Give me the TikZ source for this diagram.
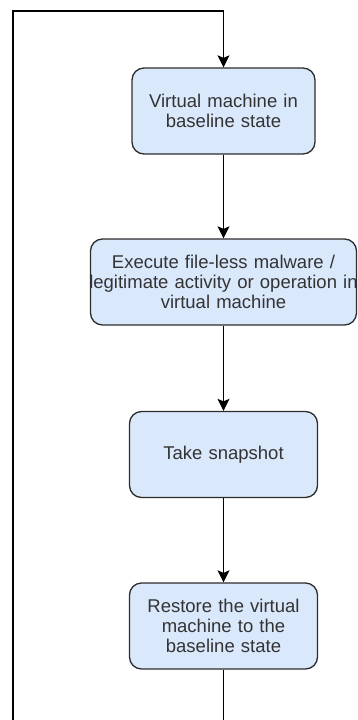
\documentclass[tikz,border=0pt]{standalone}
\usepackage{fontspec}
\setmainfont{Liberation Sans}
\usetikzlibrary{arrows.meta}

\definecolor{boxblue}{RGB}{218,232,252}
\definecolor{boxline}{RGB}{45,45,45}
\definecolor{boxtext}{RGB}{51,51,51}

\tikzset{
  stepbox/.style={draw=boxline, fill=boxblue, rounded corners=12pt, line width=1.3pt,
    align=center, text=boxtext, inner sep=0pt, minimum height=86pt,
    font=\fontsize{18.5}{20}\selectfont},
  flow/.style={-{Stealth[length=12pt,width=12pt,inset=2.5pt]}, line width=1.4pt}
}

\begin{document}
\begin{tikzpicture}[x=1pt,y=1pt]
      \useasboundingbox (0,0) rectangle (357,-720);

      \node[stepbox, text width=183pt] (vm) at (223.5,-111) {Virtual machine in\\baseline state};
      \node[stepbox, text width=266pt] (run) at (223.5,-282) {Execute file-less malware /\\\makebox[\linewidth]{legitimate activity or operation in}\\virtual machine};
      \node[stepbox, text width=188pt] (snap) at (223.5,-454.5) {Take snapshot};
      \node[stepbox, text width=188pt] (restore) at (223.5,-626) {Restore the virtual\\machine to the\\baseline state};

      \coordinate (top) at (223.5,-11);
      \coordinate (endL) at (13,-720);
      \coordinate (endR) at (223.5,-720);

      \draw[flow] (endL) |- (top) -- (vm);
      \draw[flow] (vm) -- (run);
      \draw[flow] (run) -- (snap);
      \draw[flow] (snap) -- (restore);
      \draw[line width=1.4pt] (restore) -- (endR);
    \end{tikzpicture}
\end{document}
